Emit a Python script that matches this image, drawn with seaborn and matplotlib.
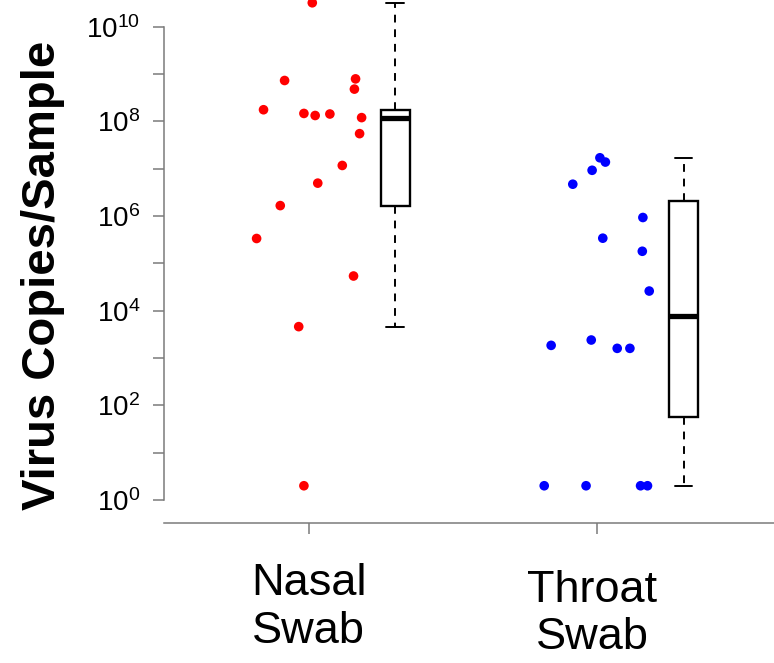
import numpy as np
import pandas as pd
import matplotlib
matplotlib.use("Agg")
import matplotlib.pyplot as plt
import matplotlib.transforms as mtransforms
import seaborn as sns

# ---------------- data ----------------
categories = ["Nasal\nSwab", "Throat\nSwab"]

nasal_values = [3.2e10, 7.3e8, 7.9e8, 4.8e8, 1.76e8, 1.47e8, 1.33e8, 1.43e8,
                1.2e8, 5.5e7, 1.17e7, 4.95e6, 1.66e6, 3.35e5, 5.4e4, 4.6e3, 2]
nasal_jitter = [0.013, -0.083, 0.163, 0.159, -0.156, -0.016, 0.023, 0.074,
                0.184, 0.177, 0.117, 0.032, -0.098, -0.180, 0.156, -0.034, -0.016]

throat_values = [1.7e7, 1.38e7, 9.25e6, 4.7e6, 9.3e5, 3.4e5, 1.8e5, 2.6e4,
                 1.85e3, 2.4e3, 1.6e3, 1.6e3, 2, 2, 2, 2]
throat_jitter = [0.010, 0.029, -0.017, -0.084, 0.159, 0.020, 0.157, 0.181,
                 -0.159, -0.020, 0.070, 0.114, -0.183, -0.038, 0.151, 0.175]

ytick_exponents = [0, 2, 4, 6, 8, 10]
yminor_exponents = [1, 3, 5, 7, 9]
point_colors = ["#ff0000", "#0000ff"]

# ---------------- figure ----------------
sns.set_theme(style="ticks")
plt.rcParams["font.family"] = ["Liberation Sans", "DejaVu Sans"]
plt.rcParams["mathtext.fontset"] = "custom"
plt.rcParams["mathtext.rm"] = "Liberation Sans"
plt.rcParams["mathtext.it"] = "Liberation Sans:italic"
plt.rcParams["mathtext.bf"] = "Liberation Sans:bold"

fig = plt.figure(figsize=(7.74, 6.63), dpi=100)
ax = fig.add_axes([164 / 774, (663 - 523) / 663, 610 / 774, 523 / 663])

df = pd.DataFrame({
    "group": [categories[0]] * len(nasal_values) + [categories[1]] * len(throat_values),
    "value": nasal_values + throat_values,
    "xpos": [0 + j for j in nasal_jitter] + [1 + j for j in throat_jitter],
})

ax.set_yscale("log")
sns.scatterplot(data=df, x="xpos", y="value", hue="group", palette=point_colors,
                s=48, edgecolor="none", legend=False, ax=ax, clip_on=False, zorder=3)


def tukey_stats(vals, whis=1.5):
    lv = np.sort(np.log10(np.asarray(vals, dtype=float)))
    n = len(lv)
    med = np.median(lv)
    half = (n + 1) // 2
    q1 = np.median(lv[:half])
    q3 = np.median(lv[n - half:])
    iqr = q3 - q1
    lo = lv[lv >= q1 - whis * iqr].min()
    hi = lv[lv <= q3 + whis * iqr].max()
    return dict(med=10 ** med, q1=10 ** q1, q3=10 ** q3,
                whislo=10 ** lo, whishi=10 ** hi, fliers=[])


stats = [tukey_stats(nasal_values), tukey_stats(throat_values)]
ax.bxp(stats, positions=[0.3, 1.3], widths=0.1, capwidths=0.06,
       showfliers=False, patch_artist=True, manage_ticks=False,
       boxprops=dict(facecolor="white", edgecolor="black", linewidth=1.7),
       medianprops=dict(color="black", linewidth=3.8, solid_capstyle="butt"),
       whiskerprops=dict(color="black", linewidth=1.4, linestyle=(0, (4, 3.5))),
       capprops=dict(color="black", linewidth=1.4))

# ---------------- axes styling ----------------
ax.set_xlim(-0.501, 1.6135)
ax.set_ylim(10 ** -0.486, 10 ** 10.564)

ax.set_yticks([10.0 ** e for e in ytick_exponents])
ax.set_yticklabels([r"$\mathdefault{10^{%d}}$" % e for e in ytick_exponents])
ax.set_yticks([10.0 ** e for e in yminor_exponents], minor=True)
ax.set_yticklabels([], minor=True)

ax.set_xticks([0, 1])
ax.set_xticklabels(categories)

axis_gray = "#7a7a7a"
for side in ["top", "right"]:
    ax.spines[side].set_visible(False)
for side in ["left", "bottom"]:
    ax.spines[side].set_color(axis_gray)
    ax.spines[side].set_linewidth(1.1)
ax.spines["left"].set_bounds(1, 1e10)

ax.tick_params(axis="y", which="both", length=8, width=1.1, color=axis_gray,
               pad=9, labelsize=20, labelcolor="black")
ax.tick_params(axis="x", which="major", length=8, width=1.1, color=axis_gray,
               pad=21, labelsize=32.5, labelcolor="black")

ax.set_xlabel("")
ax.set_ylabel("Virus Copies/Sample", fontsize=34, fontweight="bold", color="black")
ax.yaxis.set_label_coords(-0.162, 0.474)

# second category label sits slightly lower/left in the reference
lab = ax.get_xticklabels()[1]
lab.set_transform(lab.get_transform() +
                  mtransforms.ScaledTranslation(-4.6 / 100, -6.5 / 100, fig.dpi_scale_trans))

ax.grid(False)
fig.savefig("out.png", dpi=100)
